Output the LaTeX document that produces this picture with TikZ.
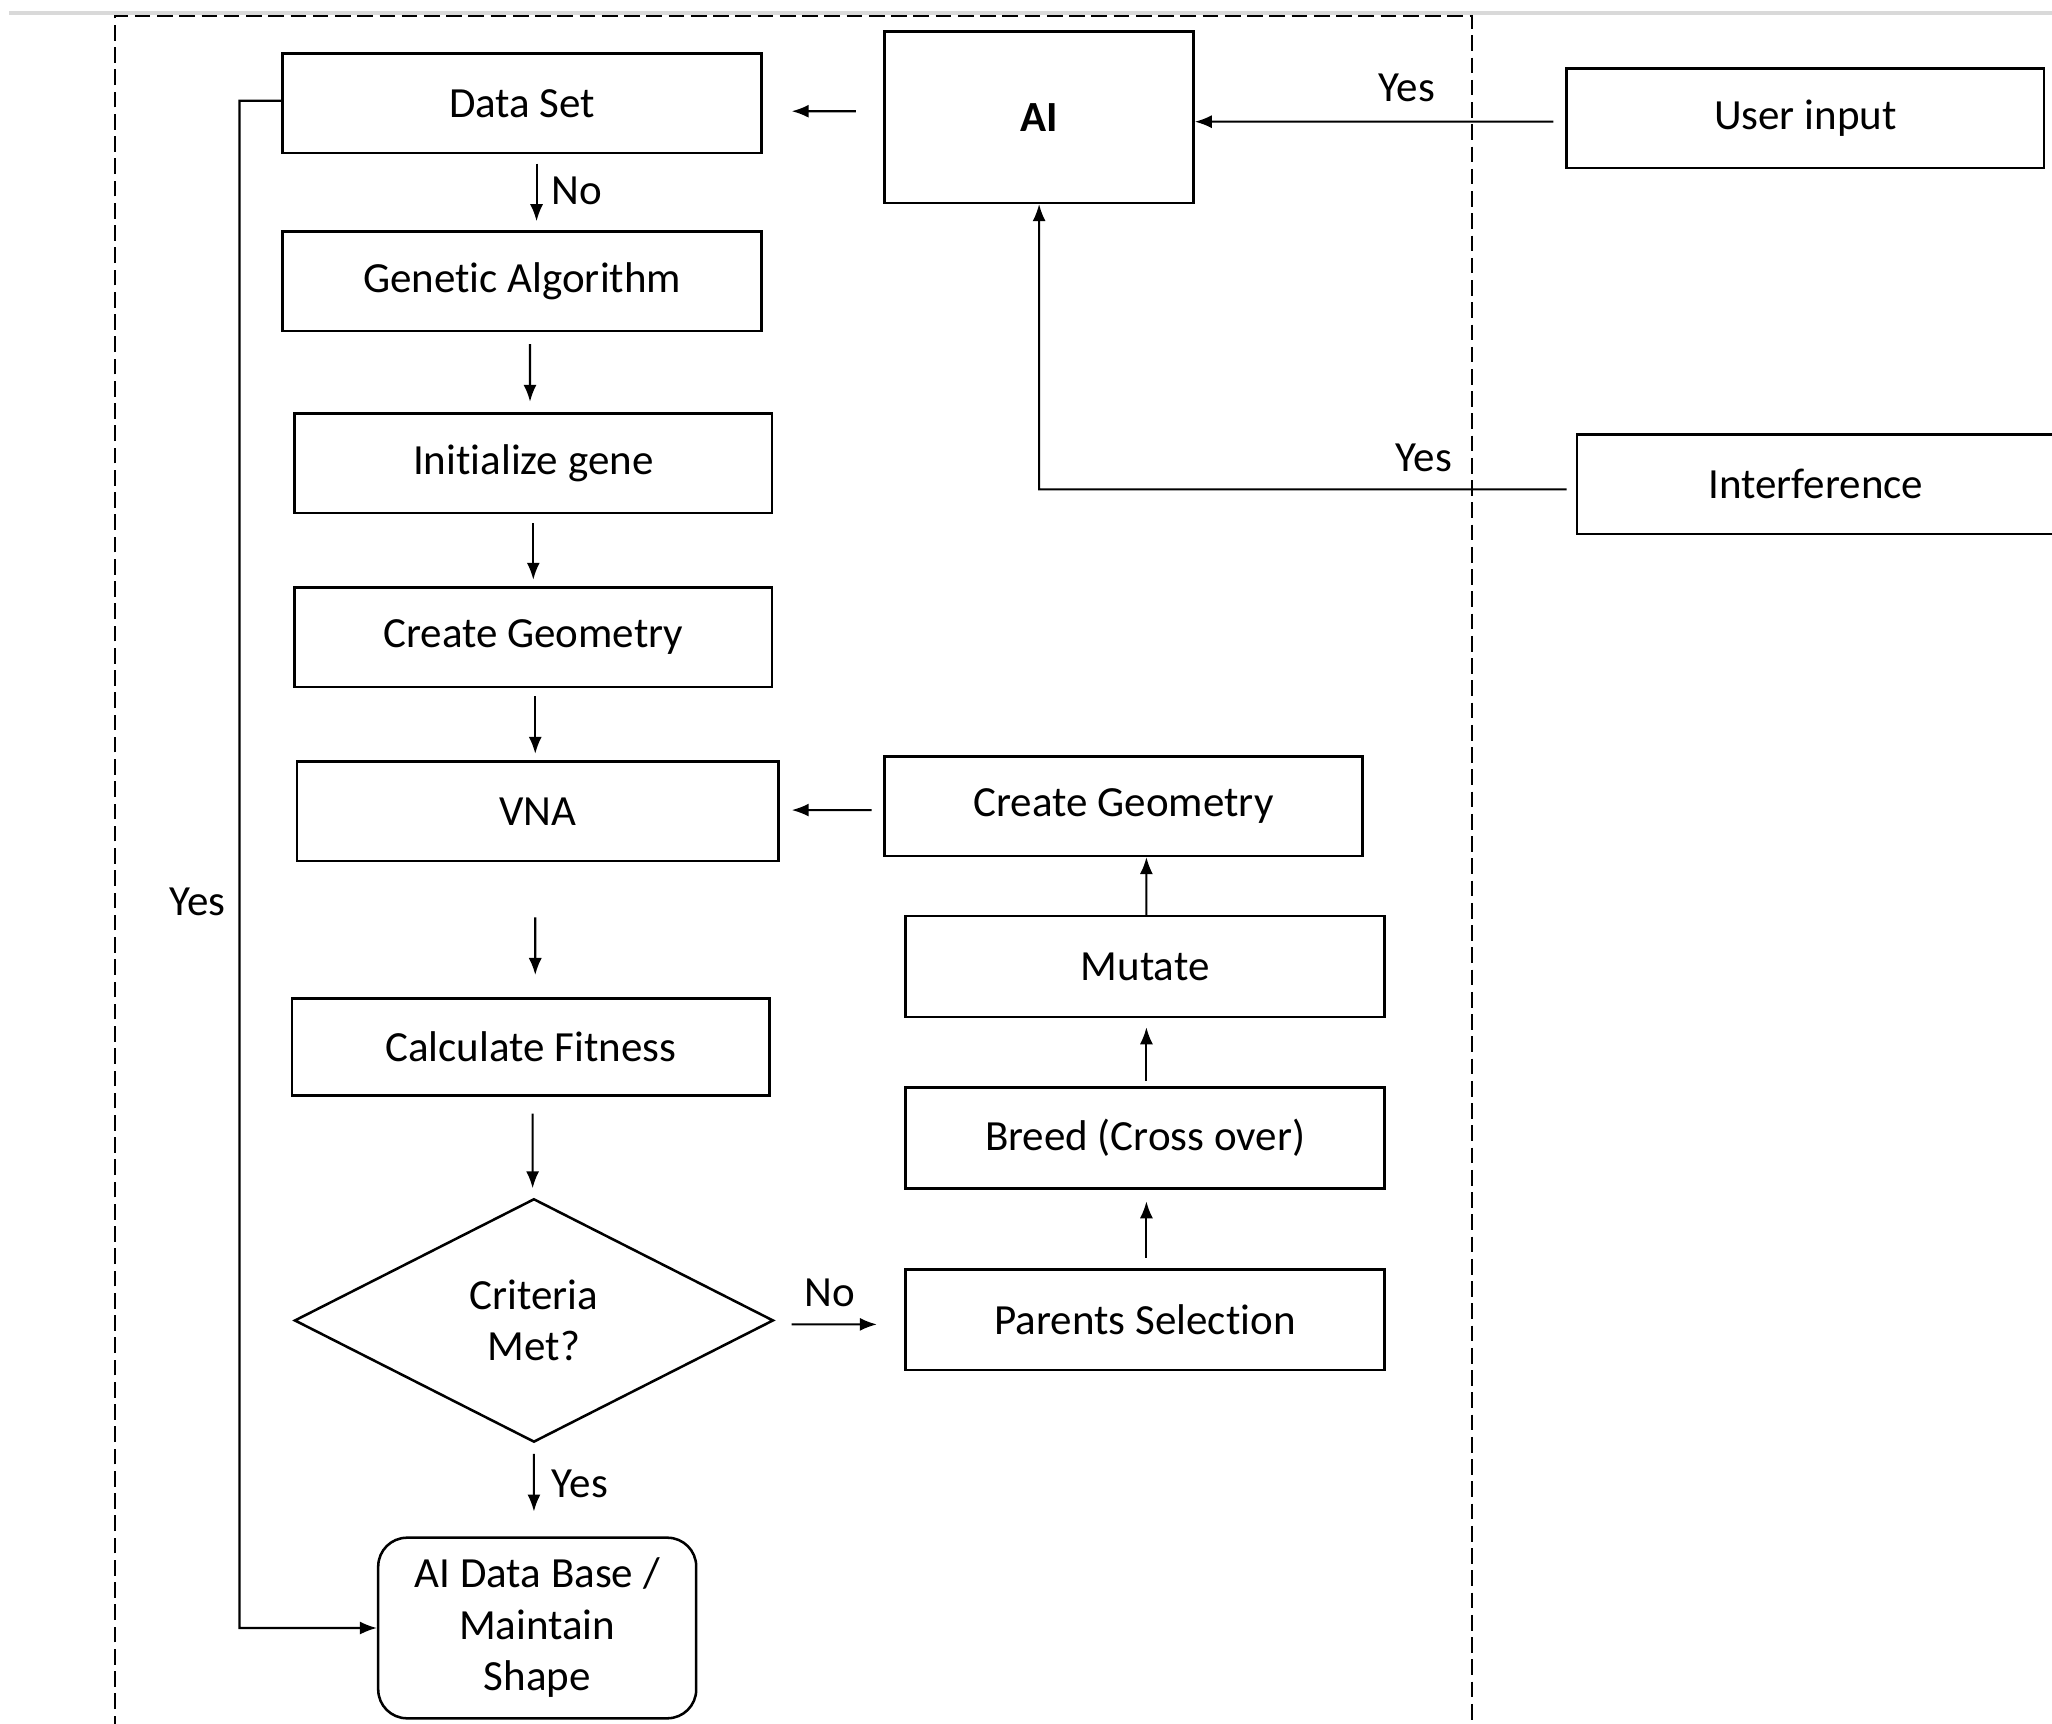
\documentclass[tikz,border=0pt]{standalone}
\usepackage{fontspec}
\setmainfont{Carlito}[Ligatures=CommonOff]
\usetikzlibrary{arrows.meta,shapes.geometric}

\begin{document}
\begin{tikzpicture}[
    every node/.style={font=\fontsize{9.35}{11.2}\selectfont},
    box/.style={draw, line width=0.55pt, minimum width=3.65cm, minimum height=0.76cm, inner sep=0pt},
    decision/.style={draw, diamond, line width=0.55pt, minimum width=3.66cm, minimum height=1.86cm, inner sep=0pt, align=center},
    store/.style={draw, rounded corners=0.22cm, line width=0.55pt, minimum width=2.43cm, minimum height=1.38cm, inner sep=0pt, align=center},
    arr/.style={-{Latex[length=1.3mm,width=1mm]}, line width=0.45pt},
    lbl/.style={inner sep=0pt}
]
    \useasboundingbox (0,0) rectangle (15.68,-13.17);

    % Frame
    \draw[gray!30, line width=0.9pt] (0.07,-0.10) -- (15.68,-0.10);
    \draw[dash pattern=on 1.2mm off 0.5mm, line width=0.45pt] (0.88,-13.4) -- (0.88,-0.12) -- (11.25,-0.12) -- (11.25,-13.4);

    % Inputs
    \node[box, minimum width=2.36cm, minimum height=1.31cm, font=\fontsize{9.35}{11.2}\selectfont\bfseries] (AI) at (7.94,-0.895) {AI};
    \node[box] (UI) at (13.795,-0.905) {User input};
    \node[box] (IF) at (13.875,-3.70) {Interference};

    % Main flow
    \node[box, minimum width=3.66cm] (DS) at (3.99,-0.79) {Data Set};
    \node[box, minimum width=3.66cm] (GA) at (3.99,-2.15) {Genetic Algorithm};
    \node[box] (IG) at (4.075,-3.54) {Initialize gene};
    \node[box] (CG) at (4.075,-4.87) {Create Geometry};
    \node[box, minimum width=3.68cm] (VNA) at (4.11,-6.20) {VNA};
    \node[box, minimum height=0.74cm] (CF) at (4.055,-8.00) {Calculate Fitness};
    \node[decision] (CM) at (4.08,-10.09) {Criteria\\Met?};
    \node[store] (DB) at (4.105,-12.44) {AI Data Base /\\Maintain\\Shape};

    % Loop back
    \node[box, minimum width=3.66cm, minimum height=0.77cm] (PS) at (8.75,-10.085) {Parents Selection};
    \node[box, minimum width=3.66cm, minimum height=0.77cm] (BR) at (8.75,-8.695) {Breed (Cross over)};
    \node[box, minimum width=3.66cm, minimum height=0.77cm] (MU) at (8.75,-7.385) {Mutate};
    \node[box] (CGR) at (8.585,-6.16) {Create Geometry};

    % Labels
    \node[lbl] (yesUI) at (10.75,-0.67) {Yes};
    \node[lbl] (yesIF) at (10.88,-3.50) {Yes};
    \node[lbl] (noDS) at (4.41,-1.46) {No};
    \node[lbl] (yesLoop) at (1.51,-6.89) {Yes};
    \node[lbl] (yesCM) at (4.43,-11.34) {Yes};
    \node[lbl] (noCM) at (6.34,-9.88) {No};

    % Connectors
    \draw[arr] ([shift={(-0.21,0.045)}]AI.west) -- ([shift={(0.22,-0.06)}]DS.east);
    \draw[arr] ([shift={(-0.09,-0.025)}]UI.west) -- ([yshift=-0.035cm]AI.east);
    \coordinate (IFbend) at (7.94,-3.74);
    \draw[arr] ([shift={(-0.07,-0.04)}]IF.west) -- (IFbend) -- (AI.south);

    \draw[arr] ([shift={(0.11,-0.07)}]DS.south) -- ([shift={(0.11,0.07)}]GA.north);
    \draw[arr] ([shift={(0.06,-0.09)}]GA.south) -- ([shift={(-0.025,0.08)}]IG.north);
    \draw[arr] ([yshift=-0.07cm]IG.south) -- ([yshift=0.05cm]CG.north);
    \draw[arr] ([shift={(0.015,-0.06)}]CG.south) -- ([shift={(-0.02,0.05)}]VNA.north);
    \draw[arr] ([shift={(-0.02,-0.42)}]VNA.south) -- ([shift={(0.035,0.17)}]CF.north);
    \draw[arr] ([shift={(0.015,-0.13)}]CF.south) -- ([shift={(-0.01,0.07)}]CM.north);
    \draw[arr] ([yshift=-0.08cm]CM.south) -- ([shift={(-0.025,0.19)}]DB.north);

    \draw[arr] ([shift={(0.13,-0.03)}]CM.east) -- ([shift={(-0.21,-0.035)}]PS.west);
    \draw[arr] ([shift={(0.01,0.08)}]PS.north) -- ([shift={(0.01,-0.09)}]BR.south);
    \draw[arr] ([shift={(0.01,0.04)}]BR.north) -- ([shift={(0.01,-0.07)}]MU.south);
    \draw[arr] ([xshift=0.01cm]MU.north) -- ([xshift=0.175cm]CGR.south);
    \draw[arr] ([shift={(-0.09,-0.03)}]CGR.west) -- ([shift={(0.09,0.01)}]VNA.east);

    \coordinate (loop) at (1.83,-0.77);
    \draw[arr] ([yshift=0.02cm]DS.west) -- (loop) |- (DB.west);
\end{tikzpicture}
\end{document}
